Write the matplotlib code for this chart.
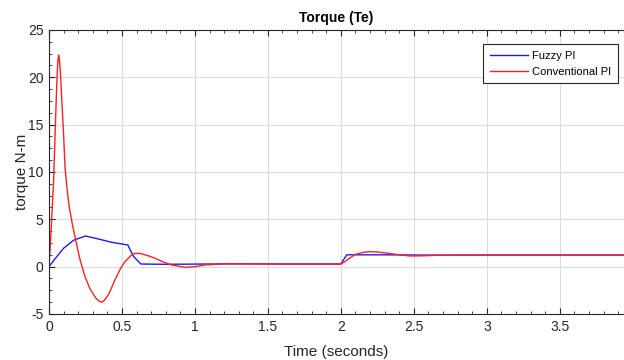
import matplotlib.pyplot as plt
from matplotlib.ticker import MultipleLocator

plt.rcParams['font.family'] = ['Liberation Sans', 'DejaVu Sans']
plt.rcParams['axes.unicode_minus'] = False

# values
t_fuzzy = [0.0, 0.02, 0.05, 0.1, 0.17, 0.25, 0.34, 0.43, 0.54, 0.58, 0.63, 0.8, 1.0,
           1.3, 1.6, 2.0, 2.04, 2.3, 2.6, 3.0, 3.94]
te_fuzzy = [0.0, 0.4, 1.0, 1.94, 2.8, 3.24, 2.92, 2.57, 2.29, 1.06, 0.28, 0.25, 0.27,
            0.3, 0.28, 0.28, 1.25, 1.25, 1.22, 1.22, 1.22]

t_conv = [0.0, 0.01, 0.02, 0.032, 0.045, 0.055, 0.062, 0.066, 0.071, 0.078, 0.088, 0.1,
          0.11, 0.125, 0.14, 0.16, 0.178, 0.21, 0.247, 0.28, 0.32, 0.345, 0.361, 0.38,
          0.41, 0.452, 0.49, 0.52, 0.56, 0.589, 0.63, 0.68, 0.726, 0.79, 0.84, 0.93,
          1.0, 1.07, 1.2, 1.4, 1.7, 2.0, 2.03, 2.06, 2.1, 2.15, 2.19, 2.25, 2.32, 2.4,
          2.47, 2.55, 2.65, 3.0, 3.94]
te_conv = [0.0, 2.5, 5.5, 9.2, 15.5, 20.0, 21.9, 22.35, 22.0, 20.6, 17.5, 14.0,
           10.5, 8.0, 6.2, 4.5, 3.17, 0.9, -1.06, -2.3, -3.3, -3.65, -3.76, -3.55,
           -2.9, -1.4, -0.2, 0.53, 1.15, 1.41, 1.38, 1.15, 0.89, 0.45, 0.18, -0.07,
           0.0, 0.18, 0.3, 0.28, 0.28, 0.28, 0.55, 0.9, 1.3, 1.5, 1.58, 1.55, 1.42, 1.25,
           1.13, 1.14, 1.2, 1.22, 1.22]

fig = plt.figure(figsize=(6.24, 3.6), dpi=100)
ax = fig.add_axes([0.0785, 0.1278, 0.9215, 0.7889])

ax.plot(t_fuzzy, te_fuzzy, color='#1a1aff', lw=1.0, label='Fuzzy PI')
ax.plot(t_conv, te_conv, color='#ff2020', lw=1.0, label='Conventional PI')

ax.set_xlim(0, 3.94)
ax.set_ylim(-5, 25)
ax.xaxis.set_major_locator(MultipleLocator(0.5))
ax.xaxis.set_minor_locator(MultipleLocator(0.1))
ax.yaxis.set_major_locator(MultipleLocator(5))
ax.yaxis.set_minor_locator(MultipleLocator(1.25))
ax.set_xticks([0, 0.5, 1, 1.5, 2, 2.5, 3, 3.5])
ax.set_xticklabels(['0', '0.5', '1', '1.5', '2', '2.5', '3', '3.5'])

ax.tick_params(which='both', direction='in', top=True, right=False,
               colors='#262626', labelsize=10)
ax.tick_params(which='major', length=4, pad=4)
ax.tick_params(which='minor', length=2)
ax.grid(True, which='major', color='#dcdcdc', lw=0.8)
for s in ax.spines.values():
    s.set_color('#262626')
ax.spines['right'].set_visible(False)

ax.set_xlabel('Time (seconds)', fontsize=11, color='#262626', labelpad=8)
ax.set_ylabel('torque N-m', fontsize=11, color='#262626', labelpad=-1)
ax.set_title('Torque (Te)', fontsize=10, fontweight='bold', pad=6)

leg = ax.legend(loc='upper right', bbox_to_anchor=(618 / 624, 1 - 44 / 360),
                bbox_transform=fig.transFigure, borderaxespad=0, fontsize=8,
                fancybox=False, framealpha=1, edgecolor='#262626', borderpad=0.6,
                handlelength=3.4, handletextpad=0.4, labelspacing=0.55)
leg.get_frame().set_linewidth(0.8)

fig.savefig('out.png', dpi=100)
